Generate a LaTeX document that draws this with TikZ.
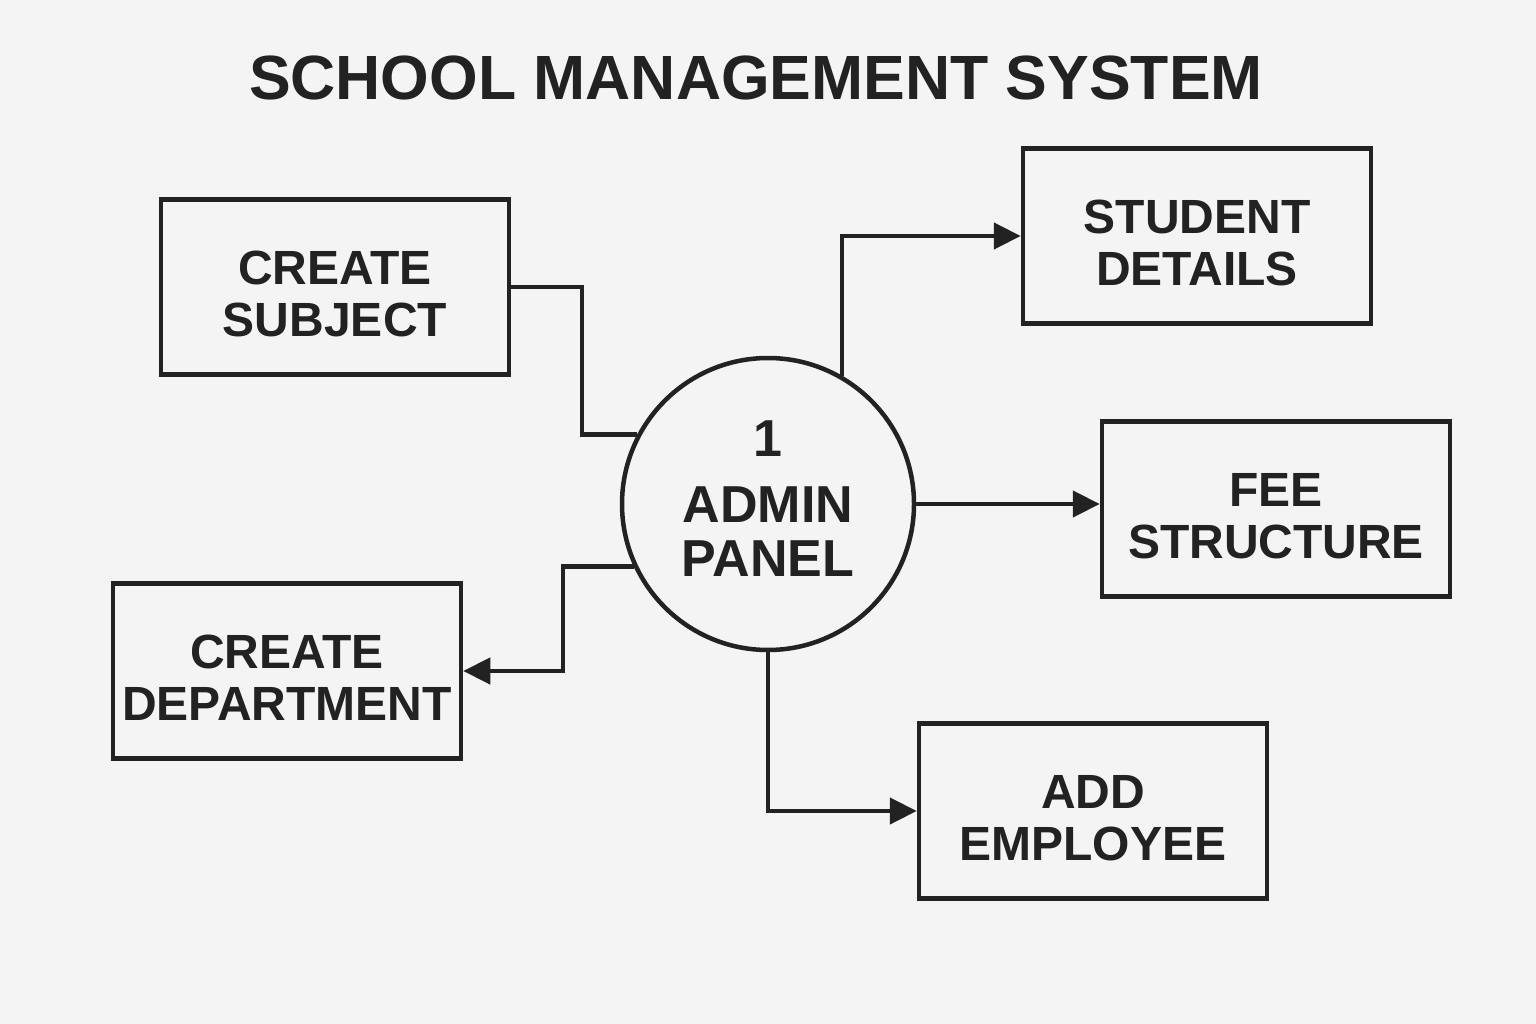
\documentclass[tikz,border=0pt]{standalone}
\usepackage{fontspec}
\setmainfont{Liberation Sans}
\usetikzlibrary{arrows.meta}
\definecolor{ink}{HTML}{222222}
\definecolor{paper}{HTML}{F4F4F4}
\begin{document}
\begin{tikzpicture}[x=1pt,y=-1pt,
  box/.style={draw=ink, line width=4.5pt, minimum width=348pt, minimum height=175pt, inner sep=0pt},
  boxtext/.style={align=center, font=\fontsize{48}{52}\selectfont\bfseries, text=ink, inner sep=0pt},
  proc/.style={circle, draw=ink, line width=4.5pt, minimum size=292pt, inner sep=0pt},
  proctext/.style={align=center, font=\fontsize{52}{54}\selectfont\bfseries, text=ink, inner sep=0pt},
  link/.style={draw=ink, line width=4.5pt},
  arr/.style={link, -{Triangle[length=27pt,width=26pt]}}
]
\fill[paper] (0,0) rectangle (1536,1024);
\useasboundingbox (0,0) rectangle (1536,1024);

\node[anchor=base, font=\fontsize{62.5}{63}\selectfont\bfseries, text=ink] (title) at (756,100) {SCHOOL MANAGEMENT SYSTEM};

\node[proc] (c) at (768,504) {};
\node[proctext] (ct) at ([yshift=5pt]c.center) {1\\[12pt]ADMIN\\PANEL};

\node[box] (cs) at (335,287) {};
\node[box] (cd) at (287,671) {};
\node[box] (sd) at (1197,236) {};
\node[box] (fs) at (1276,509) {};
\node[box] (ae) at (1093,811) {};

\node[boxtext] (cs-t) at ([yshift=-7pt]cs.center) {CREATE\\SUBJECT};
\node[boxtext] (cd-t) at ([yshift=-7pt]cd.center) {CREATE\\DEPARTMENT};
\node[boxtext] (sd-t) at ([yshift=-7pt]sd.center) {STUDENT\\DETAILS};
\node[boxtext] (fs-t) at ([yshift=-7pt]fs.center) {FEE\\STRUCTURE};
\node[boxtext] (ae-t) at ([yshift=-7pt]ae.center) {ADD\\EMPLOYEE};

\coordinate (j1) at (582,0);
\coordinate (j2) at (563,0);

\draw[link] (cs.east) -| (j1 |- c.152.7) -- (c.152.7);
\draw[arr] (c.205.6) -- (j2 |- c.205.6) |- (cd.east);
\draw[arr] (c.60) -- (c.60 |- sd.west) -- (sd.west);
\draw[arr] (c.east) -- (c.east -| fs.west);
\draw[arr] (c.south) |- (ae.west);
\end{tikzpicture}
\end{document}
